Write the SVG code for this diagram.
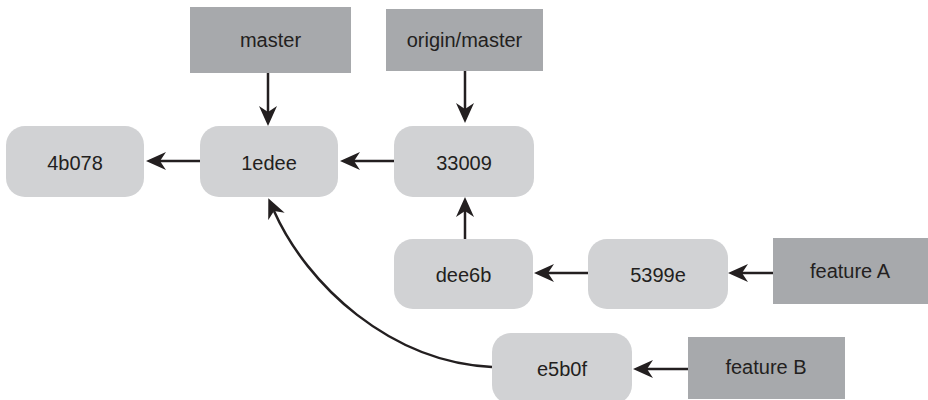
<svg xmlns="http://www.w3.org/2000/svg" width="928" height="400" viewBox="0 0 928 400">
<style>
.commit{fill:#d1d2d4}
.label{fill:#a7a9ac}
text{font-family:"Liberation Sans",Arial,sans-serif;font-size:20px;fill:#231f20;text-anchor:middle}
.conn{stroke:#231f20;stroke-width:2.5;fill:none;marker-end:url(#ah)}
</style>
<defs>
<marker id="ah" markerUnits="userSpaceOnUse" viewBox="0 0 20 18" markerWidth="20" markerHeight="18" refX="6" refY="9" orient="auto">
<path d="M0,0 L20,9 L0,18 L6,9 Z" fill="#231f20"/>
</marker>
</defs>
<rect width="928" height="400" fill="#fff"/>
<g id="master"><rect class="label" x="190" y="7" width="161" height="66"/><text x="270.5" y="47">master</text></g>
<g id="origin-master"><rect class="label" x="386" y="9" width="157" height="62"/><text x="464.5" y="47">origin/master</text></g>
<g id="feature-a"><rect class="label" x="773" y="238" width="156" height="66"/><text x="850" y="278">feature A</text></g>
<g id="feature-b"><rect class="label" x="688" y="337" width="157" height="62"/><text x="766" y="374">feature B</text></g>
<g id="c4b078"><rect class="commit" x="6" y="126" width="138" height="71" rx="19"/><text x="75" y="170">4b078</text></g>
<g id="c1edee"><rect class="commit" x="200" y="126" width="138" height="71" rx="19"/><text x="269" y="170">1edee</text></g>
<g id="c33009"><rect class="commit" x="394" y="126" width="140" height="71" rx="19"/><text x="464" y="170">33009</text></g>
<g id="cdee6b"><rect class="commit" x="394" y="239" width="139" height="70" rx="19"/><text x="463.5" y="282">dee6b</text></g>
<g id="c5399e"><rect class="commit" x="588" y="239" width="140" height="70" rx="19"/><text x="658" y="282">5399e</text></g>
<g id="ce5b0f"><rect class="commit" x="492" y="333" width="140" height="71" rx="19"/><text x="562" y="376">e5b0f</text></g>
<g id="connectors">
<path class="conn" d="M268,73 V112"/>
<path class="conn" d="M465,71 V109"/>
<path class="conn" d="M200,161 H160"/>
<path class="conn" d="M394,161 H354"/>
<path class="conn" d="M465,239 V211"/>
<path class="conn" d="M588,273 H548"/>
<path class="conn" d="M773,273 H742"/>
<path class="conn" d="M688,369 H647"/>
<path class="conn" d="M492,367 C390,362 307,285 274,211"/>
</g>
</svg>
